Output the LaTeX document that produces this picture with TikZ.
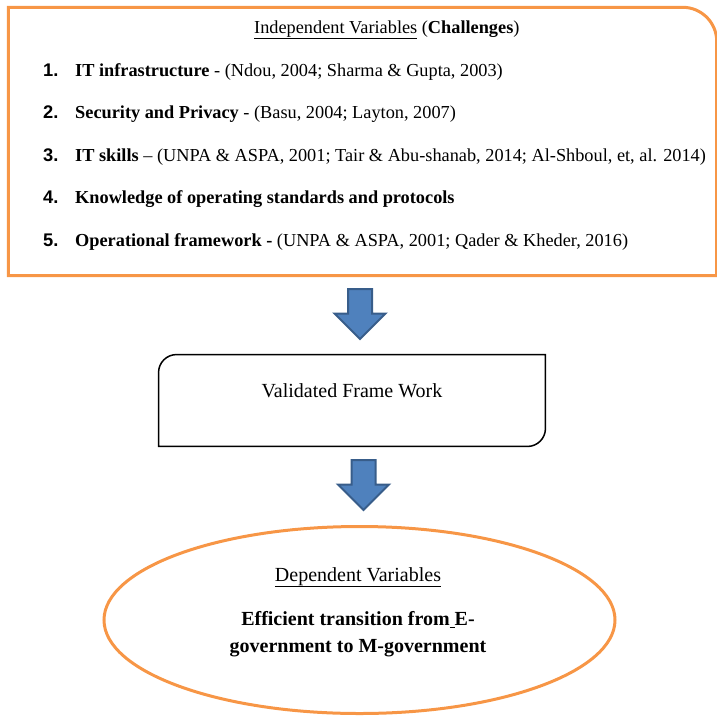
\documentclass[tikz,border=0pt]{standalone}
\usepackage{fontspec}
\setmainfont{Liberation Serif}
\setsansfont{Liberation Sans}
\usetikzlibrary{shapes.geometric,shapes.arrows}
\definecolor{boxorange}{HTML}{F79646}
\definecolor{arrowfill}{HTML}{4F81BD}
\definecolor{arrowline}{HTML}{385D8A}

\begin{document}
\begin{tikzpicture}[x=1pt, y=-1pt,
    orangeline/.style={draw=boxorange, line width=3pt},
    itemtext/.style={anchor=base west, inner sep=0pt, font=\fontsize{18.3}{22}\selectfont},
    itemnum/.style={anchor=base west, inner sep=0pt, font=\sffamily\bfseries\fontsize{18.3}{22}\selectfont},
    downarrow/.style={single arrow, shape border rotate=270, draw=arrowline, fill=arrowfill,
      line width=2pt, inner sep=11pt, minimum height=50pt, single arrow head extend=13.5pt,
      single arrow tip angle=90, anchor=tail},
    framebox/.style={inner sep=0pt, minimum width=386.5pt, minimum height=91.5pt},
    goalellipse/.style={ellipse, orangeline, inner sep=0pt, minimum width=511pt, minimum height=187pt},
    goaltext/.style={inner sep=0pt, align=center, font=\bfseries\fontsize{20}{27}\selectfont}]
  \useasboundingbox (0,0) rectangle (717,715);
  \clip (0,0) rectangle (717,715);

  % Independent variables
  \node[inner sep=0pt, minimum width=708pt, minimum height=268pt] (vars) at (362.5,141.5) {};
  \draw[orangeline] (vars.south west) -- (vars.north west) [rounded corners=34pt]
    -- (vars.north east) [sharp corners] -- (vars.south east) -- cycle;
  \node[itemtext] (vartitle) at (254,33) {\underline{Independent Variables} (\textbf{Challenges})};
  \foreach \num/\entry [count=\k from 0] in {
      1/{\textbf{IT infrastructure} - (Ndou, 2004; Sharma \& Gupta, 2003)},
      2/{\textbf{Security and Privacy} - (Basu, 2004; Layton, 2007)},
      3/{\textbf{IT skills} \textendash{} (UNPA \& ASPA, 2001; Tair \& Abu-shanab, 2014; Al-Shboul, et, al. 2014)},
      4/{\textbf{Knowledge of operating standards and protocols}},
      5/{\textbf{Operational framework -} (UNPA \& ASPA, 2001; Qader \& Kheder, 2016)}} {
    \node[itemnum] (num\num) at (43,{76+42.5*\k}) {\num.};
    \node[itemtext] (item\num) at (75,{76+42.5*\k}) {\entry};
  }

  % Arrows
  \node[downarrow] (arrowA) at (360,288) {};
  \node[downarrow] (arrowB) at (363.5,459) {};

  % Validated framework
  \node[framebox] (frame) at (352,400.5) {};
  \draw[line width=1.5pt] (frame.south west) [rounded corners=18pt] -- (frame.north west)
    [sharp corners] -- (frame.north east) [rounded corners=18pt] -- (frame.south east)
    [sharp corners] -- cycle;
  \node[itemtext, font=\fontsize{20}{24}\selectfont, anchor=base] (framelabel) at (352,397)
    {Validated Frame Work};

  % Dependent variables
  \node[goalellipse] (goal) at (359.5,620) {};
  \node[itemtext, font=\fontsize{20}{24}\selectfont, anchor=base] (goaltitle) at (358,581)
    {\underline{Dependent Variables}};
  \node[goaltext, anchor=north] (goalname) at (358,611.3)
    {Efficient transition from\underline{\ }E-\\government to M-government};
\end{tikzpicture}
\end{document}
